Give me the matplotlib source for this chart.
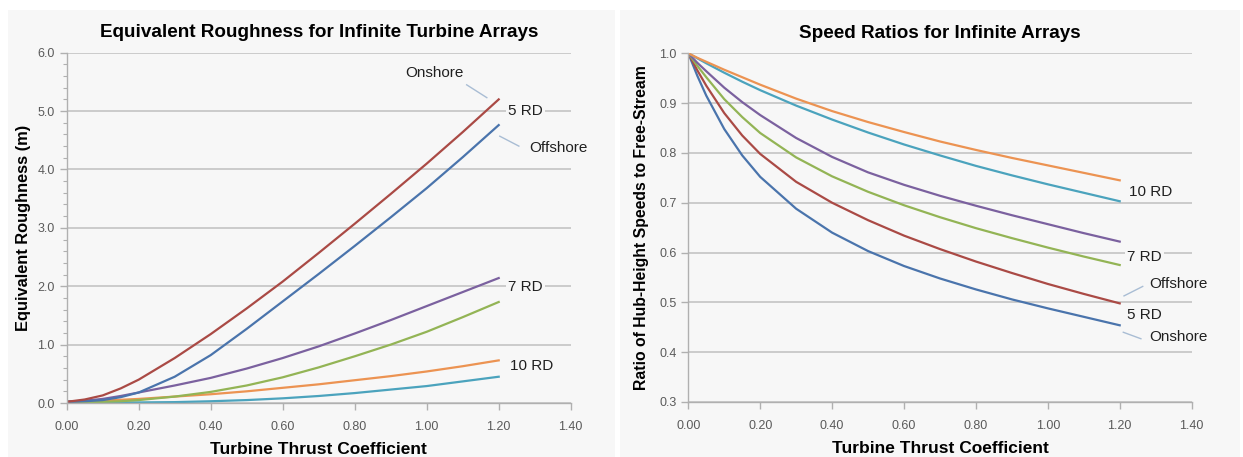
import matplotlib
matplotlib.use('Agg')
import matplotlib.pyplot as plt
from matplotlib.patches import Rectangle
from matplotlib.ticker import MultipleLocator, FormatStrFormatter

plt.rcParams['font.family'] = ['Liberation Sans', 'DejaVu Sans']

# ---------------- data: equivalent roughness (m) ----------------
ct_rough = [0.0, 0.05, 0.1, 0.15, 0.2, 0.3, 0.4, 0.5, 0.6, 0.7, 0.8, 0.9, 1.0, 1.1, 1.2]
rough_5rd_on = [0.02, 0.06, 0.13, 0.25, 0.40, 0.77, 1.18, 1.62, 2.08, 2.57, 3.07, 3.58, 4.10, 4.64, 5.20]
rough_5rd_off = [0.02, 0.03, 0.05, 0.10, 0.18, 0.45, 0.82, 1.27, 1.74, 2.21, 2.69, 3.18, 3.68, 4.21, 4.76]
rough_7rd_on = [0.02, 0.04, 0.07, 0.12, 0.18, 0.30, 0.43, 0.59, 0.77, 0.97, 1.19, 1.42, 1.66, 1.90, 2.14]
rough_7rd_off = [0.02, 0.02, 0.02, 0.03, 0.05, 0.11, 0.19, 0.30, 0.44, 0.61, 0.80, 1.00, 1.22, 1.47, 1.73]
rough_10rd_on = [0.02, 0.03, 0.04, 0.055, 0.07, 0.11, 0.15, 0.20, 0.26, 0.32, 0.39, 0.46, 0.54, 0.63, 0.73]
rough_10rd_off = [0.02, 0.015, 0.01, 0.01, 0.01, 0.015, 0.03, 0.05, 0.08, 0.12, 0.17, 0.23, 0.29, 0.37, 0.45]

# ---------------- data: speed ratios ----------------
ct_speed = [0.0, 0.025, 0.05, 0.1, 0.15, 0.2, 0.3, 0.4, 0.5, 0.6, 0.7, 0.8, 0.9, 1.0, 1.1, 1.2]
speed_5rd_on = [1.0, 0.955, 0.915, 0.848, 0.795, 0.752, 0.688, 0.640, 0.603, 0.573, 0.548, 0.526, 0.506, 0.488, 0.471, 0.454]
speed_5rd_off = [1.0, 0.966, 0.935, 0.880, 0.835, 0.798, 0.742, 0.700, 0.665, 0.634, 0.607, 0.582, 0.559, 0.537, 0.517, 0.498]
speed_7rd_off = [1.0, 0.975, 0.952, 0.908, 0.872, 0.840, 0.791, 0.753, 0.722, 0.695, 0.671, 0.649, 0.629, 0.610, 0.592, 0.575]
speed_7rd_on = [1.0, 0.981, 0.964, 0.931, 0.902, 0.876, 0.830, 0.792, 0.761, 0.736, 0.714, 0.694, 0.675, 0.657, 0.639, 0.622]
speed_10rd_off = [1.0, 0.990, 0.980, 0.961, 0.943, 0.926, 0.895, 0.867, 0.841, 0.817, 0.795, 0.774, 0.755, 0.737, 0.720, 0.703]
speed_10rd_on = [1.0, 0.991, 0.983, 0.967, 0.952, 0.937, 0.909, 0.884, 0.862, 0.842, 0.823, 0.806, 0.790, 0.775, 0.760, 0.745]

x_ticks = [0.0, 0.2, 0.4, 0.6, 0.8, 1.0, 1.2, 1.4]

C_BLUE = '#4a74ac'
C_RED = '#aa4a45'
C_GREEN = '#93b455'
C_PURPLE = '#7b619f'
C_TEAL = '#4ba3bd'
C_ORANGE = '#ec9352'

BG = '#f7f7f7'
GRID = '#c4c4c4'
SPINE = '#b0b0b0'
TICKLBL = '#5a5a5a'
LEADER = '#a9bdd4'

fig = plt.figure(figsize=(12.43, 4.57), dpi=100)
fig.patch.set_facecolor('white')
W, H = 1243.0, 457.0
fig.add_artist(Rectangle((8 / W, 0), (615 - 8) / W, 1 - 10 / H, transform=fig.transFigure,
                         facecolor=BG, edgecolor='none', zorder=0))
fig.add_artist(Rectangle((620 / W, 0), (1240 - 620) / W, 1 - 10 / H, transform=fig.transFigure,
                         facecolor=BG, edgecolor='none', zorder=0))


def style_axes(ax, ymin, ymax, ystep, yfmt, minor=None):
    ax.set_facecolor(BG)
    ax.patch.set_alpha(0)
    ax.set_xlim(0, 1.4)
    ax.set_ylim(ymin, ymax)
    ax.set_xticks(x_ticks)
    ax.xaxis.set_major_formatter(FormatStrFormatter('%.2f'))
    ax.yaxis.set_major_locator(MultipleLocator(ystep))
    ax.yaxis.set_major_formatter(FormatStrFormatter(yfmt))
    if minor:
        ax.yaxis.set_minor_locator(MultipleLocator(minor))
        ax.tick_params(axis='y', which='minor', length=3, color=SPINE, width=0.8)
    for s in ['top', 'right']:
        ax.spines[s].set_visible(False)
    for s in ['left', 'bottom']:
        ax.spines[s].set_color(SPINE)
        ax.spines[s].set_linewidth(1.0)
    ax.tick_params(axis='both', which='major', length=5, color=SPINE, width=1.0,
                   labelsize=9, labelcolor=TICKLBL, direction='out')
    ax.tick_params(axis='x', pad=8)
    ax.grid(axis='y', color=GRID, linewidth=1.2)
    ax.set_axisbelow(True)


lw = 1.6
lbl = dict(fontsize=11, color='#202020', va='center', ha='left')
box = dict(facecolor=BG, edgecolor='none', pad=1.5)

# ---------------- left chart ----------------
ax1 = fig.add_axes([66.7 / W, 1 - 403 / H, (570.7 - 66.7) / W, (403 - 52.7) / H])
style_axes(ax1, 0, 6.0, 1.0, '%.1f', minor=0.2)
ax1.plot(ct_rough, rough_10rd_off, color=C_TEAL, lw=lw)
ax1.plot(ct_rough, rough_10rd_on, color=C_ORANGE, lw=lw)
ax1.plot(ct_rough, rough_7rd_off, color=C_GREEN, lw=lw)
ax1.plot(ct_rough, rough_7rd_on, color=C_PURPLE, lw=lw)
ax1.plot(ct_rough, rough_5rd_off, color=C_BLUE, lw=lw)
ax1.plot(ct_rough, rough_5rd_on, color=C_RED, lw=lw)

ax1.set_title('Equivalent Roughness for Infinite Turbine Arrays', fontsize=13.6,
              fontweight='bold', pad=11)
ax1.set_xlabel('Turbine Thrust Coefficient', fontsize=12.5, fontweight='bold', labelpad=6.5)
ax1.set_ylabel('Equivalent Roughness (m)', fontsize=11.8, fontweight='bold', labelpad=5)

ax1.text(1.022, 5.66, 'Onshore', ha='center', va='center', fontsize=11, color='#202020')
ax1.plot([1.111, 1.167], [5.45, 5.23], color=LEADER, lw=1.0)
ax1.text(1.226, 5.0, '5 RD', bbox=box, **lbl)
ax1.text(1.284, 4.375, 'Offshore', bbox=box, **lbl)
ax1.plot([1.203, 1.256], [4.57, 4.40], color=LEADER, lw=1.0)
ax1.text(1.226, 1.98, '7 RD', bbox=box, **lbl)
ax1.text(1.232, 0.63, '10 RD', **lbl)

# ---------------- right chart ----------------
ax2 = fig.add_axes([688.3 / W, 1 - 402 / H, (1191.6 - 688.3) / W, (402 - 53.3) / H])
style_axes(ax2, 0.3, 1.0, 0.1, '%.1f')
ax2.plot(ct_speed, speed_5rd_on, color=C_BLUE, lw=lw)
ax2.plot(ct_speed, speed_5rd_off, color=C_RED, lw=lw)
ax2.plot(ct_speed, speed_7rd_off, color=C_GREEN, lw=lw)
ax2.plot(ct_speed, speed_7rd_on, color=C_PURPLE, lw=lw)
ax2.plot(ct_speed, speed_10rd_off, color=C_TEAL, lw=lw)
ax2.plot(ct_speed, speed_10rd_on, color=C_ORANGE, lw=lw)

ax2.set_title('Speed Ratios for Infinite Arrays', fontsize=13.6, fontweight='bold', pad=11)
ax2.set_xlabel('Turbine Thrust Coefficient', fontsize=12.5, fontweight='bold', labelpad=6.5)
ax2.set_ylabel('Ratio of Hub-Height Speeds to Free-Stream', fontsize=11.3, fontweight='bold',
               labelpad=7)

ax2.text(1.226, 0.7225, '10 RD', bbox=box, **lbl)
ax2.text(1.221, 0.592, '7 RD', bbox=box, **lbl)
ax2.text(1.283, 0.537, 'Offshore', **lbl)
ax2.plot([1.212, 1.264], [0.513, 0.532], color=LEADER, lw=1.0)
ax2.text(1.219, 0.475, '5 RD', **lbl)
ax2.text(1.283, 0.430, 'Onshore', **lbl)
ax2.plot([1.210, 1.259], [0.440, 0.427], color=LEADER, lw=1.0)

fig.savefig('out.png', dpi=100, facecolor=fig.get_facecolor())
